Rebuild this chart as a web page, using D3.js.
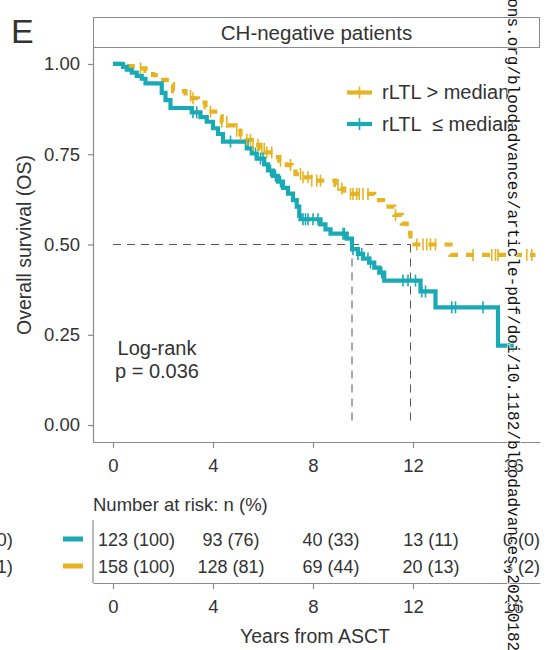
<!DOCTYPE html>
<html><head><meta charset="utf-8">
<script src="https://cdn.jsdelivr.net/npm/d3@7"></script>
<style>body{margin:0;background:#fff}svg{display:block}</style>
</head><body><svg id="c" width="547" height="650"></svg>
<script>
// ---- data ----
const groups = ["rLTL > median", "rLTL  \u2264 median"];
// teal: rLTL <= median (step times and survival after each step)
const tealTimes = [0,0.4,0.55,0.75,0.95,1.15,1.3,1.95,2.1,2.3,3.15,3.5,3.75,4.0,4.2,4.4,5.35,5.55,5.75,6.05,6.2,6.4,6.6,6.8,7.0,7.2,7.35,7.45,7.5,8.3,8.5,8.7,9.35,9.56,9.8,10.0,10.25,10.45,10.65,10.85,12.3,12.9,15.4,16.0];
const tealSurv  = [1,0.992,0.984,0.976,0.967,0.959,0.946,0.92,0.90,0.878,0.866,0.853,0.84,0.822,0.806,0.785,0.766,0.752,0.738,0.722,0.705,0.69,0.674,0.657,0.641,0.623,0.605,0.58,0.57,0.556,0.542,0.53,0.516,0.487,0.474,0.461,0.45,0.436,0.422,0.40,0.37,0.326,0.22,0.22];
const tealCensor = [3.2,3.35,4.7,5.7,5.9,6.0,6.3,6.5,6.7,7.6,7.7,7.8,8.0,8.2,9.2,9.25,9.6,9.8,9.95,10.2,10.3,10.75,11.6,11.8,12.1,12.35,12.5,13.55,13.7,14.8,15.85,16.0];
// gold: rLTL > median
const goldTimes = [0,0.5,1.0,1.3,1.6,1.9,2.15,2.4,2.9,3.2,3.4,3.7,3.85,4.2,4.35,4.6,4.9,5.1,5.35,5.55,5.85,6.1,6.45,6.65,6.95,7.15,7.3,7.55,7.9,8.9,9.1,9.25,10.45,10.8,11.25,11.55,11.75,11.9,13.5,16.9];
const goldSurv  = [1,0.994,0.988,0.981,0.969,0.956,0.944,0.925,0.912,0.905,0.893,0.88,0.868,0.855,0.84,0.83,0.815,0.805,0.79,0.776,0.765,0.755,0.742,0.732,0.72,0.71,0.695,0.686,0.677,0.665,0.655,0.64,0.623,0.605,0.582,0.558,0.532,0.50,0.471,0.471];
const goldCensor = [1.1,3.1,3.2,3.9,4.35,4.55,4.95,5.1,5.35,5.5,5.6,5.8,5.95,6.05,6.15,6.35,6.7,7.1,7.5,7.6,7.8,7.95,8.15,8.3,9.0,9.15,9.5,9.6,9.75,9.85,10.0,10.2,11.3,12.15,12.4,12.55,12.7,12.9,14.4,15.15,15.3,15.4,16.55,16.75];
const xTicks = [0,4,8,12,16];
const yTicks = [0,0.25,0.5,0.75,1];
const riskTimes = [0,4,8,12,16];
const tealN = [123,93,40,13,0], tealPct = [100,76,33,11,0];
const goldN = [158,128,69,20,3], goldPct = [100,81,44,13,2];
const stripTitle = "CH-negative patients";
const pText = ["Log-rank", "p = 0.036"];
const watermark = "ashpublications.org/bloodadvances/article-pdf/doi/10.1182/bloodadvances.2025018271/2461978/bloodadvances.2025018271.pdf";

// ---- style ----
const TEAL = "#1AAAB6", GOLD = "#E6B423", TXT = "#333", AX = "#8a8a8a";
const FONT = "'Liberation Sans', Arial, Helvetica, sans-serif";
const svg = d3.select("#c").style("font-family", FONT);

const x = d3.scaleLinear().domain([-0.8, 17.08]).range([93, 540]);
const y = d3.scaleLinear().domain([-0.047, 1.047]).range([442, 47]);

// panel label
svg.append("text").attr("x", 11).attr("y", 43).attr("font-size", 34).attr("fill", TXT).text("E");

// strip
svg.append("rect").attr("x", 93.5).attr("y", 17.5).attr("width", 446).attr("height", 30)
  .attr("fill", "#fff").attr("stroke", AX).attr("stroke-width", 1);
svg.append("text").attr("x", 316.5).attr("y", 40).attr("text-anchor", "middle")
  .attr("font-size", 20.5).attr("fill", TXT).text(stripTitle);

// axes
const yAxis = d3.axisLeft(y).tickValues(yTicks).tickFormat(d3.format(".2f")).tickSize(5).tickSizeOuter(0).tickPadding(8);
const gy = svg.append("g").attr("transform", "translate(93,0)").call(yAxis);
const xAxis = d3.axisBottom(x).tickValues(xTicks).tickSize(6).tickSizeOuter(0).tickPadding(11);
const gx = svg.append("g").attr("transform", "translate(0,442)").call(xAxis);
[gy, gx].forEach(g => {
  g.selectAll("path.domain").attr("stroke", AX).attr("stroke-width", 1.2);
  g.selectAll(".tick line").attr("stroke", AX).attr("stroke-width", 1.2);
  g.selectAll(".tick text").attr("fill", TXT).attr("font-size", 18.5).attr("font-family", FONT);
});

// axis title
svg.append("text").attr("transform", "translate(31,245) rotate(-90)").attr("text-anchor", "middle")
  .attr("font-size", 19.5).attr("fill", TXT).text("Overall survival (OS)");

// step helpers
const stepPts = (T, S) => T.map((t, i) => [t, S[i]]);
const survAt = (T, S, t) => { let s = S[0]; for (let i = 0; i < T.length; i++) { if (T[i] <= t) s = S[i]; } return s; };
const medianOf = (T, S) => { for (let i = 0; i < T.length; i++) if (S[i] <= 0.5) return T[i]; return null; };
const line = d3.line().x(d => x(d[0])).y(d => y(d[1])).curve(d3.curveStepAfter);

// median reference lines
const mTeal = medianOf(tealTimes, tealSurv), mGold = medianOf(goldTimes, goldSurv);
const ref = svg.append("g").attr("stroke", "#555").attr("stroke-width", 1).attr("stroke-dasharray", "8,6").attr("fill", "none");
ref.append("line").attr("x1", x(0)).attr("x2", x(Math.max(mTeal, mGold))).attr("y1", y(0.5)).attr("y2", y(0.5));
[mTeal, mGold].forEach(m => ref.append("line").attr("x1", x(m)).attr("x2", x(m)).attr("y1", y(0.5)).attr("y2", y(0)));

// curves
svg.append("path").datum(stepPts(goldTimes, goldSurv)).attr("d", line).attr("fill", "none")
  .attr("stroke", GOLD).attr("stroke-width", 4.2).attr("stroke-dasharray", "8,8");
svg.append("path").datum(stepPts(tealTimes, tealSurv)).attr("d", line).attr("fill", "none")
  .attr("stroke", TEAL).attr("stroke-width", 4.2);

// censor marks
function censors(times, T, S, col) {
  svg.append("g").selectAll("line").data(times).join("line")
    .attr("x1", d => x(d)).attr("x2", d => x(d))
    .attr("y1", d => y(survAt(T, S, d)) - 6).attr("y2", d => y(survAt(T, S, d)) + 6)
    .attr("stroke", col).attr("stroke-width", 1.6);
}
censors(goldCensor, goldTimes, goldSurv, GOLD);
censors(tealCensor, tealTimes, tealSurv, TEAL);

// legend
const leg = svg.append("g");
[[GOLD, 92.5, 99, groups[0]], [TEAL, 124, 131, groups[1]]].forEach(([c, ly, ty, lab]) => {
  leg.append("line").attr("x1", 347).attr("x2", 372).attr("y1", ly).attr("y2", ly).attr("stroke", c).attr("stroke-width", 4.2);
  leg.append("line").attr("x1", 359.5).attr("x2", 359.5).attr("y1", ly - 6).attr("y2", ly + 6).attr("stroke", c).attr("stroke-width", 1.6);
  leg.append("text").attr("x", 382).attr("y", ty).attr("font-size", 20).attr("fill", TXT).style("white-space", "pre").text(lab);
});

// log-rank text
svg.append("text").attr("x", 157).attr("y", 355).attr("text-anchor", "middle").attr("font-size", 20).attr("fill", TXT).text(pText[0]);
svg.append("text").attr("x", 157).attr("y", 378).attr("text-anchor", "middle").attr("font-size", 20).attr("fill", TXT).text(pText[1]);

// risk table
svg.append("text").attr("x", 93).attr("y", 511).attr("font-size", 18.5).attr("fill", TXT).text("Number at risk: n (%)");
svg.append("line").attr("x1", 93).attr("x2", 93).attr("y1", 520).attr("y2", 583).attr("stroke", AX).attr("stroke-width", 1.2);
const gx2 = svg.append("g").attr("transform", "translate(0,583)").call(xAxis);
gx2.selectAll("path.domain").attr("stroke", AX).attr("stroke-width", 1.2);
gx2.selectAll(".tick line").attr("stroke", AX).attr("stroke-width", 1.2);
gx2.selectAll(".tick text").attr("fill", TXT).attr("font-size", 18.5).attr("font-family", FONT);

function riskRow(N, P, cy, col, clipLabel) {
  const g = svg.append("g");
  riskTimes.forEach((t, i) => {
    const tx = g.append("text").attr("y", cy + 6.5).attr("font-size", 18).attr("fill", TXT)
      .attr("text-anchor", "middle").text(`${N[i]} (${P[i]})`);
    const w = tx.node().getComputedTextLength();
    let cx = x(t) + 18;
    if (cx - w / 2 < 98) cx = 98 + w / 2;
    if (cx + w / 2 > 540) cx = 540 - w / 2;
    tx.attr("x", cx);
  });
  svg.append("rect").attr("x", 63).attr("y", cy - 2.5).attr("width", 20).attr("height", 5).attr("fill", col);
  svg.append("text").attr("x", 13).attr("y", cy + 6.5).attr("text-anchor", "end").attr("font-size", 18.5).attr("fill", TXT).text(clipLabel);
}
riskRow(tealN, tealPct, 539, TEAL, "=0)");
riskRow(goldN, goldPct, 566, GOLD, "=1)");

svg.append("text").attr("x", 315).attr("y", 643).attr("text-anchor", "middle").attr("font-size", 19.5).attr("fill", TXT).text("Years from ASCT");

// watermark
svg.append("text").attr("transform", "translate(508,-117) rotate(90)")
  .attr("font-family", "'Liberation Mono', 'DejaVu Sans Mono', monospace").attr("font-size", 16)
  .attr("fill", "#111").attr("stroke", "#fff").attr("stroke-width", 1.5).attr("paint-order", "stroke")
  .text(watermark);
</script></body></html>
